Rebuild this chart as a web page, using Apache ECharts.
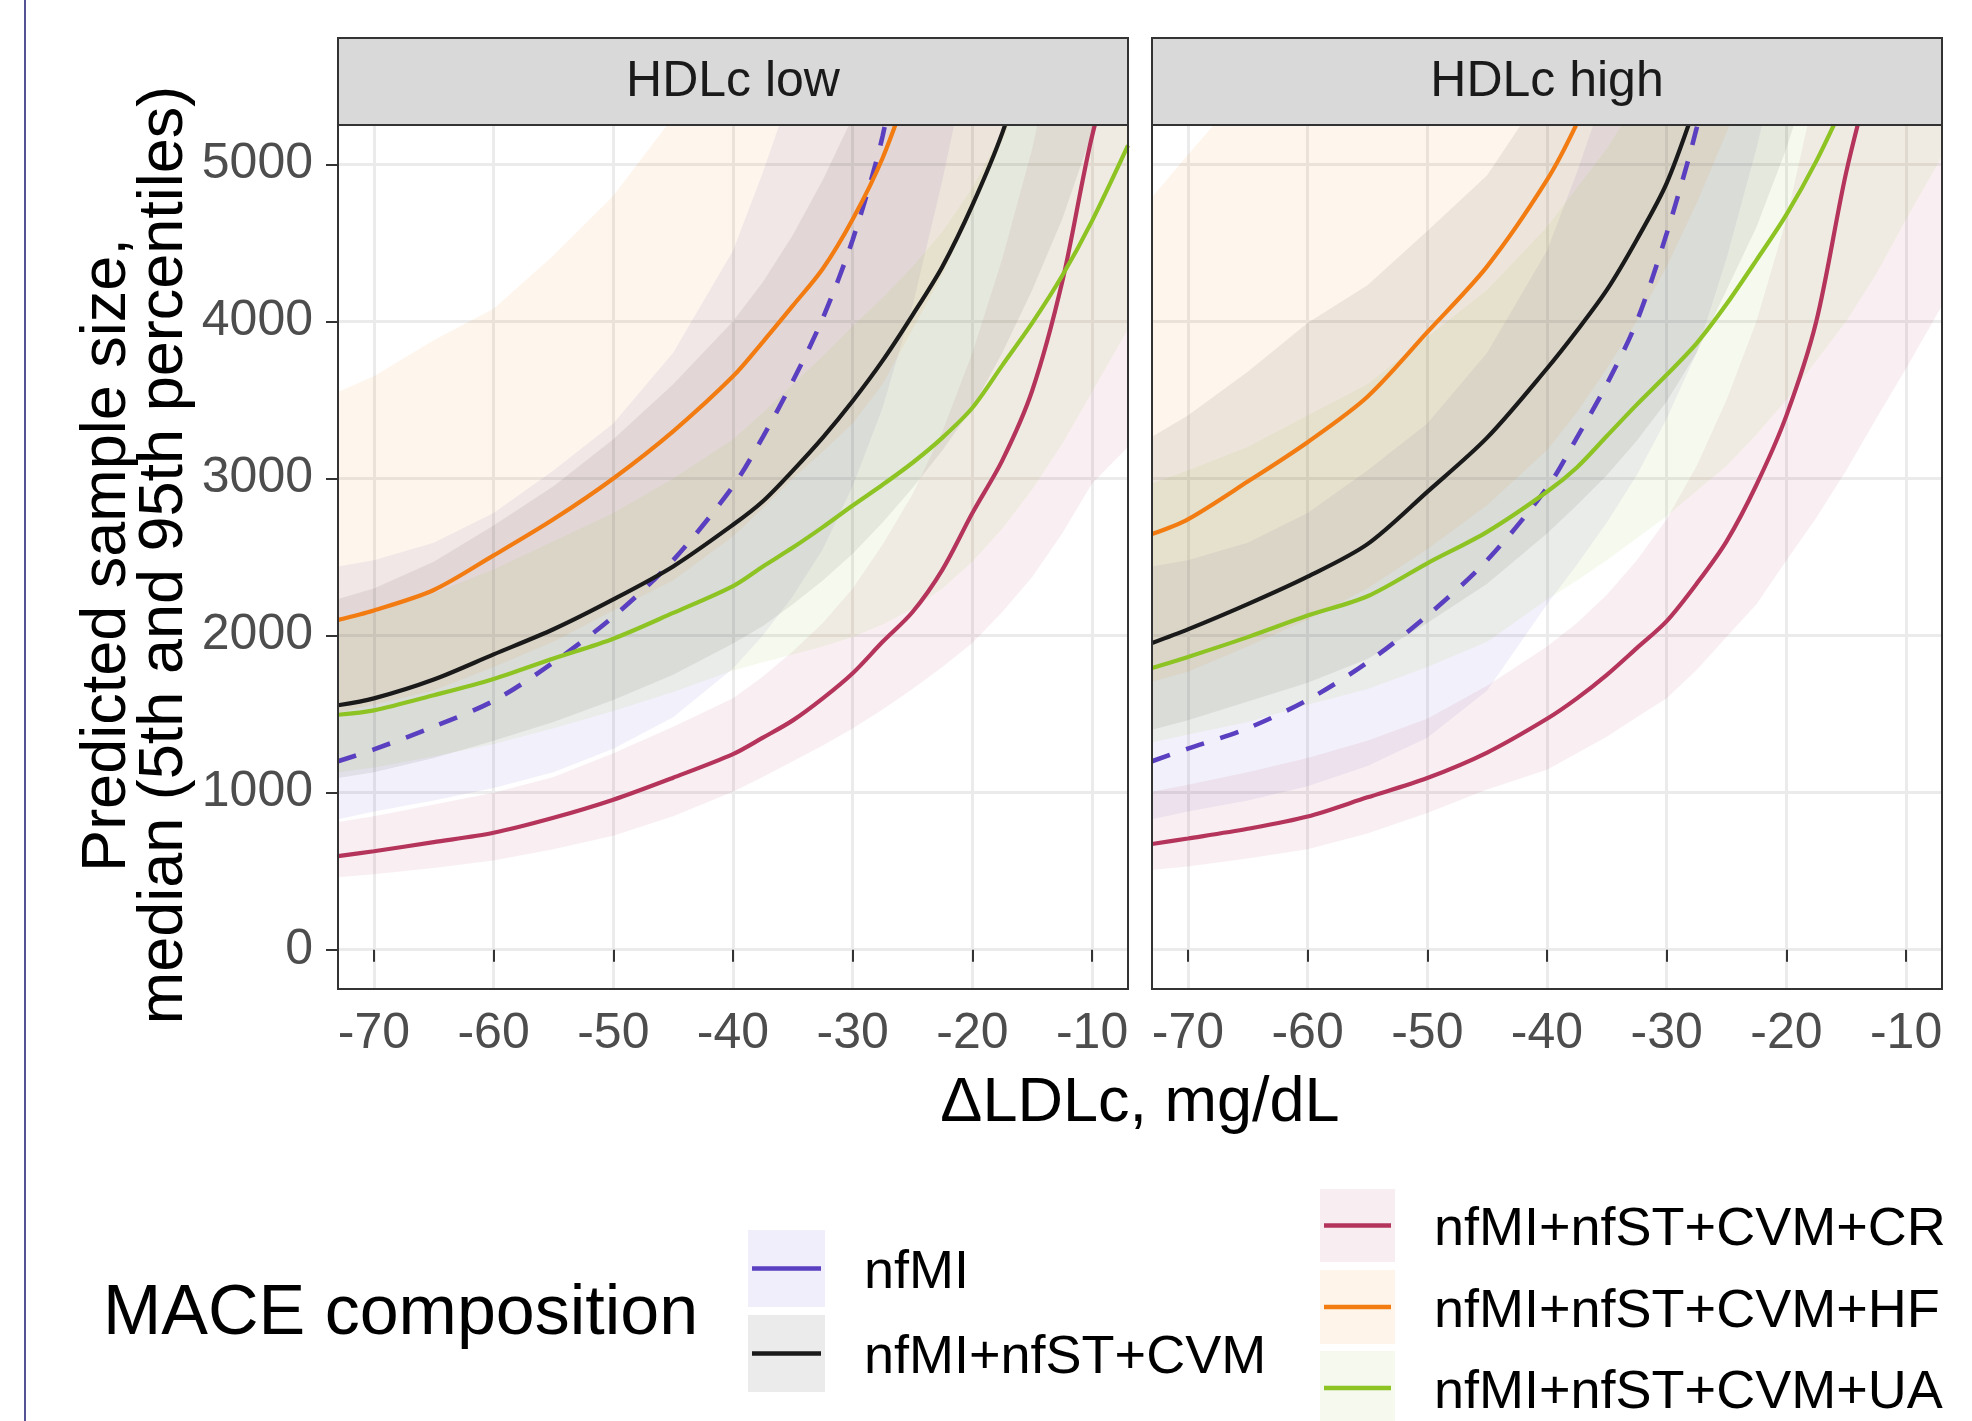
<!DOCTYPE html>
<html><head><meta charset="utf-8">
<script src="https://cdn.jsdelivr.net/npm/echarts@6/dist/echarts.min.js"></script>
<style>html,body{margin:0;padding:0;background:#fff}#c{width:1972px;height:1421px}</style>
</head><body><div id="c"></div>
<script>
// ---------- data ----------
const xVals = [-73, -70, -65, -60, -55, -50, -45, -40, -37.5, -35, -32.5, -30, -27.5, -25, -22.5, -20, -17.5, -15, -12.5, -10, -7];
const xTicks = [-70, -60, -50, -40, -30, -20, -10];
const yTicks = [0, 1000, 2000, 3000, 4000, 5000];
const panelNames = ['HDLc low', 'HDLc high'];
const compositions = ['nfMI', 'nfMI+nfST+CVM', 'nfMI+nfST+CVM+CR', 'nfMI+nfST+CVM+HF', 'nfMI+nfST+CVM+UA'];

// HDLc low
const nfMI_low_med = [1200, 1275, 1420, 1584, 1829, 2120, 2480, 2950, 3265, 3620, 4020, 4520, 5180, 6200];
const nfMI_low_lo  = [830, 880, 950, 1030, 1130, 1280, 1480, 1790, 2000, 2250, 2550, 2950, 3450, 4100, 4900, 5800];
const nfMI_low_hi  = [2440, 2480, 2590, 2780, 3050, 3350, 3800, 4450, 4950, 5500, 6200, 7000, 7900, 9000, 10200, 11500];
const cvm_low_med = [1556, 1600, 1720, 1880, 2040, 2230, 2440, 2705, 2855, 3050, 3260, 3493, 3750, 4040, 4350, 4740, 5200, 5800, 6500];
const cvm_low_lo  = [1093, 1130, 1220, 1330, 1450, 1590, 1750, 1950, 2060, 2200, 2350, 2520, 2720, 2940, 3180, 3450, 3800, 4200, 4650, 5200, 5800];
const cvm_low_hi  = [2232, 2300, 2470, 2700, 2950, 3250, 3600, 4000, 4250, 4550, 4900, 5300, 5750, 6300, 6900, 7600, 8400, 9300, 10300, 11400, 12800];
const cr_low_med = [596, 627, 685, 745, 840, 955, 1095, 1245, 1350, 1460, 1600, 1760, 1960, 2150, 2420, 2780, 3115, 3560, 4250, 5180, 6000];
const cr_low_lo  = [462, 480, 520, 568, 640, 725, 850, 1006, 1100, 1200, 1300, 1409, 1530, 1660, 1800, 1952, 2150, 2372, 2650, 2968, 3200];
const cr_low_hi  = [813, 850, 925, 1000, 1100, 1250, 1420, 1601, 1740, 1900, 2080, 2300, 2580, 2900, 3300, 3800, 4400, 5100, 6000, 7000, 8200];
const hf_low_med = [2100, 2160, 2290, 2510, 2740, 3000, 3300, 3650, 3870, 4100, 4335, 4650, 5040, 5560];
const hf_low_lo  = [1510, 1560, 1650, 1800, 1960, 2160, 2350, 2630, 2810, 3000, 3170, 3350, 3600, 3950, 4300, 4700, 5150, 5600];
const hf_low_hi  = [3550, 3650, 3880, 4080, 4420, 4800, 5300, 5900, 6300, 6700, 7100, 7500, 8100, 8900, 9700, 10600, 11600, 12700];
const ua_low_med = [1496, 1524, 1620, 1724, 1854, 1980, 2144, 2315, 2440, 2560, 2690, 2828, 2960, 3100, 3260, 3450, 3720, 3990, 4290, 4640, 5120];
const ua_low_lo  = [1130, 1160, 1230, 1310, 1410, 1520, 1640, 1777, 1830, 1880, 1930, 1990, 2070, 2170, 2300, 2470, 2680, 2930, 3220, 3550, 3950];
const ua_low_hi  = [2100, 2140, 2270, 2420, 2600, 2780, 3000, 3250, 3420, 3600, 3780, 3970, 4150, 4350, 4570, 4850, 5200, 5600, 6000, 6500, 7100];

// HDLc high
const nfMI_high_med = [1200, 1280, 1410, 1590, 1829, 2127, 2480, 2940, 3260, 3600, 4000, 4560, 5230, 6100];
const nfMI_high_lo  = [830, 880, 950, 1040, 1170, 1350, 1650, 2200, 2450, 2720, 3020, 3380, 3800, 4400, 5100, 5900];
const nfMI_high_hi  = [2440, 2480, 2590, 2780, 3050, 3350, 3800, 4450, 4950, 5500, 6200, 7000, 7900, 9000, 10200, 11500];
const cvm_high_med = [1952, 2039, 2200, 2375, 2582, 2915, 3260, 3700, 3940, 4200, 4520, 4880, 5400, 6000];
const cvm_high_lo  = [1400, 1460, 1580, 1700, 1850, 2080, 2330, 2650, 2830, 3020, 3240, 3490, 3800, 4200, 4600, 5100, 5700];
const cvm_high_hi  = [3266, 3400, 3680, 3990, 4230, 4575, 4930, 5500, 5850, 6250, 6700, 7200, 7800, 8500, 9300, 10200, 11200];
const cr_high_med = [673, 708, 770, 848, 970, 1093, 1255, 1470, 1600, 1750, 1920, 2092, 2330, 2600, 2960, 3400, 4000, 4950, 5700];
const cr_high_lo  = [508, 530, 580, 640, 740, 870, 1020, 1146, 1250, 1356, 1480, 1601, 1780, 1990, 2200, 2477, 2750, 3050, 3380, 3700, 4100];
const cr_high_hi  = [1006, 1050, 1130, 1220, 1330, 1470, 1680, 1930, 2080, 2260, 2480, 2740, 3080, 3500, 4000, 4650, 5500, 6500, 7600, 8800, 10200];
const hf_high_med = [2646, 2740, 2980, 3231, 3520, 3931, 4350, 4900, 5260, 5700];
const hf_high_lo  = [1706, 1770, 1930, 2100, 2300, 2550, 2830, 3180, 3420, 3700, 4000, 4350, 4750, 5200, 5700];
const hf_high_hi  = [4790, 5060, 5500, 6000, 6500, 7100, 7700, 8400, 8800, 9200, 9700, 10200, 10800, 11400, 12000];
const ua_high_med = [1794, 1864, 1990, 2127, 2250, 2460, 2660, 2915, 3070, 3270, 3470, 3660, 3860, 4110, 4390, 4680, 5020, 5420];
const ua_high_lo  = [1321, 1370, 1450, 1560, 1660, 1800, 1960, 2230, 2350, 2480, 2620, 2760, 2920, 3080, 3280, 3500, 3750, 4000, 4300, 4650, 5050];
const ua_high_hi  = [2968, 3050, 3200, 3400, 3600, 3900, 4200, 4600, 4850, 5100, 5400, 5700, 6000, 6400, 6800, 7300, 7900, 8500, 9200, 9900, 10800];

// ---------- styling ----------
const FONT = "'Liberation Sans', Arial, Helvetica, sans-serif";
const lineColors = ['#5a3fc0', '#1a1a1a', '#b5345c', '#f27c12', '#8dc424'];
const keyFills = ['#f0eefa', '#ebebeb', '#f8eef1', '#fff4ea', '#f5f9ee'];
const RIB_ALPHA = 0.08;

const panelSets = [
  [[nfMI_low_med, nfMI_low_lo, nfMI_low_hi], [cvm_low_med, cvm_low_lo, cvm_low_hi], [cr_low_med, cr_low_lo, cr_low_hi], [hf_low_med, hf_low_lo, hf_low_hi], [ua_low_med, ua_low_lo, ua_low_hi]],
  [[nfMI_high_med, nfMI_high_lo, nfMI_high_hi], [cvm_high_med, cvm_high_lo, cvm_high_hi], [cr_high_med, cr_high_lo, cr_high_hi], [hf_high_med, hf_high_lo, hf_high_hi], [ua_high_med, ua_high_lo, ua_high_hi]]
];

const G = [{left: 338, top: 125, width: 790, height: 864}, {left: 1152, top: 125, width: 790, height: 864}];
const STRIP_TOP = 38;

function ribbonRender(rows, color) {
  return function (params, api) {
    if (params.dataIndex !== 0) return null;
    const pts = [];
    for (let i = 0; i < rows.length; i++) pts.push(api.coord([rows[i][0], rows[i][2]]));
    for (let i = rows.length - 1; i >= 0; i--) pts.push(api.coord([rows[i][0], rows[i][1]]));
    return {type: 'polygon', shape: {points: pts}, style: {fill: color, opacity: RIB_ALPHA}, silent: true};
  };
}

const series = [];
panelSets.forEach((set, p) => {
  set.forEach((trip, k) => {
    const lo = trip[1], hi = trip[2];
    const rows = lo.map((v, i) => [xVals[i], v, hi[i]]);
    series.push({
      type: 'custom', name: 'ribbon' + p + '_' + k, xAxisIndex: p, yAxisIndex: p,
      data: rows, encode: {x: 0, y: [1, 2]}, clip: true, silent: true, z: 1,
      renderItem: ribbonRender(rows, lineColors[k])
    });
  });
});
panelSets.forEach((set, p) => {
  set.forEach((trip, k) => {
    const med = trip[0];
    series.push({
      type: 'line', name: compositions[k], xAxisIndex: p, yAxisIndex: p,
      data: med.map((v, i) => [xVals[i], v]), symbol: 'none', smooth: 0.3, clip: true,
      lineStyle: {color: lineColors[k], width: k === 0 ? 4.6 : 4.2, type: k === 0 ? [19, 17] : 'solid', cap: 'butt'},
      itemStyle: {color: lineColors[k]}, z: 3, silent: true
    });
  });
});

const xAxes = G.map((g, p) => ({
  type: 'value', gridIndex: p, min: -73, max: -7,
  axisLine: {show: false},
  axisTick: {show: true, customValues: xTicks, length: 12, lineStyle: {color: '#333333', width: 2}},
  axisLabel: {show: true, customValues: xTicks, margin: 20, fontSize: 50, color: '#4d4d4d', fontFamily: FONT,
              formatter: v => String(v)},
  splitLine: {show: true, lineStyle: {color: '#ebebeb', width: 3}}
}));
const yAxes = G.map((g, p) => ({
  type: 'value', gridIndex: p, min: -250, max: 5250,
  axisLine: {show: false},
  axisTick: {show: p === 0, customValues: yTicks, length: 12, lineStyle: {color: '#333333', width: 2}},
  axisLabel: {show: p === 0, customValues: yTicks, margin: 25, fontSize: 50, color: '#4d4d4d', fontFamily: FONT,
              formatter: v => String(v)},
  splitLine: {show: true, lineStyle: {color: '#ebebeb', width: 3}}
}));

// legend layout: one legend component per key
const keyBoxes = [
  {left: 748, top: 1230, w: 77, h: 77},
  {left: 748, top: 1315, w: 77, h: 77},
  {left: 1320, top: 1189, w: 75, h: 73},
  {left: 1320, top: 1270, w: 75, h: 74},
  {left: 1320, top: 1351, w: 75, h: 74}
];
const legends = keyBoxes.map((b, k) => ({
  orient: 'vertical', left: b.left, top: b.top, itemWidth: b.w, itemHeight: b.h, padding: 0,
  icon: 'rect', selectedMode: false,
  formatter: '{t|{name}}',
  textStyle: {fontSize: 54, color: '#000000', fontFamily: FONT,
              rich: {t: {fontSize: 54, color: '#000000', fontFamily: FONT, padding: [10, 0, 0, 34]}}},
  data: [{name: compositions[k], icon: 'rect', itemStyle: {color: keyFills[k], borderWidth: 0}}]
}));

const graphics = [];
graphics.push({type: 'line', shape: {x1: 25, y1: 0, x2: 25, y2: 1421}, style: {stroke: '#27277a', lineWidth: 1.6}, z: 50});
G.forEach((g, p) => {
  graphics.push({type: 'rect', shape: {x: g.left, y: STRIP_TOP, width: g.width, height: g.top - STRIP_TOP},
    style: {fill: '#d9d9d9', stroke: '#333333', lineWidth: 2}, z: 50});
  graphics.push({type: 'text', x: g.left + g.width / 2, y: (STRIP_TOP + g.top) / 2 + 1,
    style: {text: panelNames[p], fontSize: 50, fill: '#1a1a1a', fontFamily: FONT, textAlign: 'center', textVerticalAlign: 'middle'}, z: 51});
  graphics.push({type: 'rect', shape: {x: g.left, y: g.top, width: g.width, height: g.height},
    style: {fill: 'none', stroke: '#333333', lineWidth: 2}, z: 50});
});
graphics.push({type: 'text', x: (G[0].left + G[1].left + G[1].width) / 2, y: 1104,
  style: {text: '\u0394LDLc, mg/dL', fontSize: 63, fill: '#000000', fontFamily: FONT, textAlign: 'center', textVerticalAlign: 'middle'}, z: 50});
graphics.push({type: 'text', x: 136, y: 555, rotation: Math.PI / 2,
  style: {text: 'Predicted sample size,\nmedian (5th and 95th percentiles)', fontSize: 63, lineHeight: 57, fill: '#000000', fontFamily: FONT, textAlign: 'center', textVerticalAlign: 'middle'}, z: 50});
graphics.push({type: 'text', x: 103, y: 1315,
  style: {text: 'MACE composition', fontSize: 70, fill: '#000000', fontFamily: FONT, textAlign: 'left', textVerticalAlign: 'middle'}, z: 50});
keyBoxes.forEach((b, k) => {
  const cy = b.top + b.h / 2;
  graphics.push({type: 'line', shape: {x1: b.left + 4, y1: cy, x2: b.left + b.w - 4, y2: cy}, style: {stroke: lineColors[k], lineWidth: 4.5}, z: 60});
});

const chart = echarts.init(document.getElementById('c'), null, {renderer: 'canvas'});
chart.setOption({
  animation: false,
  backgroundColor: '#ffffff',
  textStyle: {fontFamily: FONT},
  grid: G.map(g => ({left: g.left, top: g.top, width: g.width, height: g.height, show: false})),
  xAxis: xAxes,
  yAxis: yAxes,
  legend: legends,
  series: series,
  graphic: graphics
});
</script></body></html>
